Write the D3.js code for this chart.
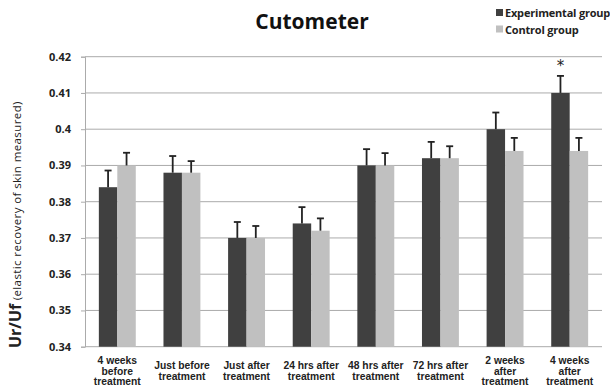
<!DOCTYPE html>
<html>
<head>
<meta charset="utf-8">
<script src="https://cdn.jsdelivr.net/npm/d3@7"></script>
<style>
  html, body { margin: 0; padding: 0; background: #fff; }
  svg { display: block; }
</style>
</head>
<body>
<svg id="chart" width="610" height="389"></svg>
<script>
// Time points (each label broken into lines)
const categories = [
  ["4 weeks", "before", "treatment"],
  ["Just before", "treatment"],
  ["Just after", "treatment"],
  ["24 hrs after", "treatment"],
  ["48 hrs after", "treatment"],
  ["72 hrs after", "treatment"],
  ["2 weeks", "after", "treatment"],
  ["4 weeks", "after", "treatment"]
];
const seriesNames = ["Experimental group", "Control group"];
const experimental = [0.384, 0.388, 0.370, 0.374, 0.390, 0.392, 0.400, 0.410];
const control      = [0.390, 0.388, 0.370, 0.372, 0.390, 0.392, 0.394, 0.394];
const experimentalErr = [0.0046, 0.0046, 0.0044, 0.0045, 0.0045, 0.0045, 0.0046, 0.0047];
const controlErr      = [0.0035, 0.0032, 0.0033, 0.0034, 0.0034, 0.0033, 0.0036, 0.0036];
const yTicks = [0.34, 0.35, 0.36, 0.37, 0.38, 0.39, 0.40, 0.41, 0.42];
const yTickLabels = ["0.34", "0.35", "0.36", "0.37", "0.38", "0.39", "0.4", "0.41", "0.42"];
const significant = [false, false, false, false, false, false, false, true];

const colors = ["#404040", "#c0c0c0"];
const svg = d3.select("#chart");

const plotLeft = 85, plotRight = 602, plotTop = 56.7, plotBottom = 346.7;
const catKeys = categories.map((c, i) => i);
const x = d3.scaleBand().domain(catKeys).range([plotLeft, plotRight]).padding(0);
const xs = d3.scaleBand().domain([0, 1]).range([0, x.bandwidth()]).paddingInner(0).paddingOuter(0.75);
const y = d3.scaleLinear().domain([0.34, 0.42]).range([plotBottom, plotTop]);

// Horizontal gridlines
svg.append("g")
  .selectAll("line")
  .data(yTicks)
  .join("line")
  .attr("x1", plotLeft).attr("x2", plotRight)
  .attr("y1", d => y(d)).attr("y2", d => y(d))
  .attr("stroke", "#ababab").attr("stroke-width", 1);

// Y axis with tick labels
const yAxis = d3.axisLeft(y)
  .tickValues(yTicks)
  .tickSize(4)
  .tickPadding(10)
  .tickFormat((d, i) => yTickLabels[i]);
const gy = svg.append("g").attr("transform", `translate(${plotLeft},0)`).call(yAxis);
gy.select(".domain").attr("stroke", "#ababab");
gy.selectAll(".tick line").attr("stroke", "#ababab");
gy.selectAll(".tick text")
  .attr("font-family", "'Open Sans', sans-serif")
  .attr("font-weight", "bold")
  .attr("font-size", "11px")
  .attr("fill", "#222");

// Bars
const series = [experimental, control];
const errors = [experimentalErr, controlErr];
series.forEach((vals, s) => {
  const g = svg.append("g");
  g.selectAll("rect")
    .data(vals)
    .join("rect")
    .attr("x", (d, i) => x(i) + xs(s))
    .attr("width", xs.bandwidth())
    .attr("y", d => y(d))
    .attr("height", d => plotBottom - y(d))
    .attr("fill", colors[s]);
});

// Upper error bars with caps
series.forEach((vals, s) => {
  const g = svg.append("g").attr("stroke", "#222").attr("stroke-width", 1.8);
  vals.forEach((v, i) => {
    const cx = x(i) + xs(s) + xs.bandwidth() / 2;
    const yt = y(v + errors[s][i]);
    g.append("line").attr("x1", cx).attr("x2", cx).attr("y1", y(v)).attr("y2", yt);
    g.append("line").attr("x1", cx - 3.5).attr("x2", cx + 3.5).attr("y1", yt).attr("y2", yt);
  });
});

// Significance marks
svg.append("g")
  .selectAll("text")
  .data(experimental.map((v, i) => ({ v, i })).filter(d => significant[d.i]))
  .join("text")
  .attr("x", d => x(d.i) + xs(0) + xs.bandwidth() / 2)
  .attr("y", 71)
  .attr("text-anchor", "middle")
  .attr("font-family", "'DejaVu Sans', sans-serif")
  .attr("font-size", "15px")
  .attr("fill", "#222")
  .text("*");

// Category labels
const lineH = 10.5;
const xl = svg.append("g");
categories.forEach((lines, i) => {
  const cx = x(i) + x.bandwidth() / 2;
  const firstBase = 374.5 - (lines.length - 1) * lineH / 2;
  const t = xl.append("text")
    .attr("text-anchor", "middle")
    .attr("font-family", "'Liberation Sans', Arial, sans-serif")
    .attr("font-weight", "bold")
    .attr("font-size", "10.3px")
    .attr("fill", "#222");
  lines.forEach((ln, k) => {
    t.append("tspan").attr("x", cx).attr("y", firstBase + k * lineH).text(ln);
  });
});

// Title
svg.append("text")
  .attr("x", 312).attr("y", 28.5)
  .attr("text-anchor", "middle")
  .attr("font-family", "'Open Sans', sans-serif")
  .attr("font-weight", "bold")
  .attr("font-size", "21px")
  .attr("fill", "#111")
  .text("Cutometer");

// Y-axis title
const yTitle = svg.append("text")
  .attr("transform", "translate(21,348) rotate(-90)")
  .attr("text-anchor", "start")
  .attr("fill", "#222");
yTitle.append("tspan")
  .attr("font-family", "'Open Sans', sans-serif")
  .attr("font-weight", "bold").attr("font-size", "16px")
  .text("Ur/Uf");
yTitle.append("tspan")
  .attr("font-family", "'Open Sans', sans-serif")
  .attr("font-size", "11.5px")
  .attr("letter-spacing", "0.4px")
  .text(" (elastic recovery of skin measured)");

// Legend
const lg = svg.append("g");
seriesNames.forEach((name, s) => {
  const yy = 17 + s * 16.5;
  lg.append("rect").attr("x", 496).attr("y", yy - 8).attr("width", 7).attr("height", 7).attr("fill", colors[s]);
  lg.append("text")
    .attr("x", 505).attr("y", yy)
    .attr("font-family", "'Open Sans', sans-serif")
    .attr("font-weight", "bold")
    .attr("font-size", "11px")
    .attr("letter-spacing", "-0.2px")
    .attr("fill", "#222")
    .text(name);
});
</script>
</body>
</html>
